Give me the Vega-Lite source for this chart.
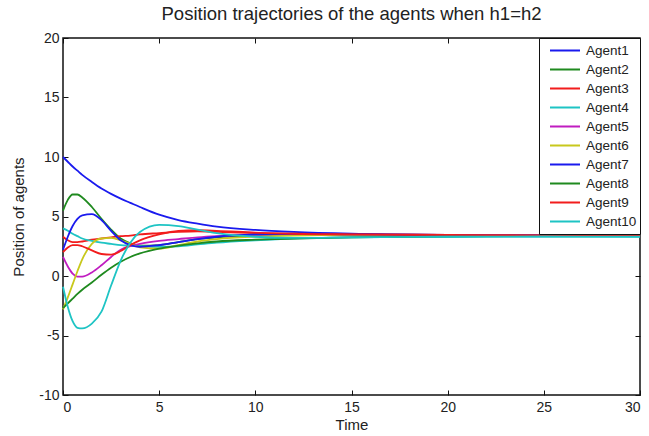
{
  "$schema": "https://vega.github.io/schema/vega-lite/v6.json",
  "width": 577,
  "height": 357,
  "autosize": "none",
  "padding": {"left": 63, "top": 38, "right": 9, "bottom": 41},
  "background": "white",
  "config": {
    "font": "Liberation Sans",
    "view": {"stroke": "#111", "strokeWidth": 1.5},
    "axis": {"grid": false, "domain": false, "labelFont": "Liberation Sans", "titleFont": "Liberation Sans", "labelColor": "#222", "titleColor": "#222", "tickColor": "#111", "tickWidth": 1, "labelFontSize": 14, "titleFontSize": 15, "titleFontWeight": "normal"},
    "legend": {"labelFont": "Liberation Sans"}
  },
  "title": {"text": "Position trajectories of the agents when h1=h2", "fontSize": 18.5, "fontWeight": "normal", "color": "#222", "offset": 8, "anchor": "middle"},
  "resolve": {"axis": {"x": "independent", "y": "independent"}},
  "data": {"values": [
    {"agent":"Agent1","t":0,"y":10},{"agent":"Agent1","t":0.25,"y":9.6},{"agent":"Agent1","t":0.5,"y":9.2},{"agent":"Agent1","t":0.75,"y":8.85},{"agent":"Agent1","t":1,"y":8.5},{"agent":"Agent1","t":1.5,"y":7.9},{"agent":"Agent1","t":2,"y":7.35},{"agent":"Agent1","t":2.5,"y":6.9},{"agent":"Agent1","t":3,"y":6.5},{"agent":"Agent1","t":3.5,"y":6.15},{"agent":"Agent1","t":4,"y":5.8},{"agent":"Agent1","t":5,"y":5.15},{"agent":"Agent1","t":6,"y":4.7},{"agent":"Agent1","t":7,"y":4.4},{"agent":"Agent1","t":8,"y":4.15},{"agent":"Agent1","t":10,"y":3.87},{"agent":"Agent1","t":12,"y":3.7},{"agent":"Agent1","t":15,"y":3.55},{"agent":"Agent1","t":20,"y":3.45},{"agent":"Agent1","t":25,"y":3.42},{"agent":"Agent1","t":30,"y":3.4},
    {"agent":"Agent2","t":0,"y":5.5},{"agent":"Agent2","t":0.25,"y":6.4},{"agent":"Agent2","t":0.5,"y":6.85},{"agent":"Agent2","t":0.75,"y":6.85},{"agent":"Agent2","t":1,"y":6.6},{"agent":"Agent2","t":1.5,"y":5.8},{"agent":"Agent2","t":2,"y":4.8},{"agent":"Agent2","t":2.5,"y":3.9},{"agent":"Agent2","t":3,"y":3.15},{"agent":"Agent2","t":3.5,"y":2.75},{"agent":"Agent2","t":4,"y":2.55},{"agent":"Agent2","t":5,"y":2.6},{"agent":"Agent2","t":6,"y":2.85},{"agent":"Agent2","t":7,"y":3.1},{"agent":"Agent2","t":8,"y":3.25},{"agent":"Agent2","t":10,"y":3.4},{"agent":"Agent2","t":12,"y":3.45},{"agent":"Agent2","t":15,"y":3.45},{"agent":"Agent2","t":20,"y":3.42},{"agent":"Agent2","t":25,"y":3.4},{"agent":"Agent2","t":30,"y":3.4},
    {"agent":"Agent3","t":0,"y":3.3},{"agent":"Agent3","t":0.25,"y":3.0},{"agent":"Agent3","t":0.5,"y":2.85},{"agent":"Agent3","t":0.75,"y":2.85},{"agent":"Agent3","t":1,"y":2.9},{"agent":"Agent3","t":1.5,"y":3.05},{"agent":"Agent3","t":2,"y":3.15},{"agent":"Agent3","t":2.5,"y":3.25},{"agent":"Agent3","t":3,"y":3.35},{"agent":"Agent3","t":3.5,"y":3.4},{"agent":"Agent3","t":4,"y":3.5},{"agent":"Agent3","t":5,"y":3.6},{"agent":"Agent3","t":6,"y":3.7},{"agent":"Agent3","t":7,"y":3.75},{"agent":"Agent3","t":8,"y":3.7},{"agent":"Agent3","t":10,"y":3.6},{"agent":"Agent3","t":12,"y":3.55},{"agent":"Agent3","t":15,"y":3.5},{"agent":"Agent3","t":20,"y":3.45},{"agent":"Agent3","t":25,"y":3.42},{"agent":"Agent3","t":30,"y":3.4},
    {"agent":"Agent4","t":0,"y":4.0},{"agent":"Agent4","t":0.25,"y":3.8},{"agent":"Agent4","t":0.5,"y":3.55},{"agent":"Agent4","t":0.75,"y":3.35},{"agent":"Agent4","t":1,"y":3.15},{"agent":"Agent4","t":1.5,"y":2.95},{"agent":"Agent4","t":2,"y":2.8},{"agent":"Agent4","t":2.5,"y":2.7},{"agent":"Agent4","t":3,"y":2.6},{"agent":"Agent4","t":3.5,"y":2.55},{"agent":"Agent4","t":4,"y":2.5},{"agent":"Agent4","t":5,"y":2.45},{"agent":"Agent4","t":6,"y":2.5},{"agent":"Agent4","t":7,"y":2.65},{"agent":"Agent4","t":8,"y":2.8},{"agent":"Agent4","t":10,"y":3.0},{"agent":"Agent4","t":12,"y":3.15},{"agent":"Agent4","t":15,"y":3.25},{"agent":"Agent4","t":20,"y":3.3},{"agent":"Agent4","t":25,"y":3.32},{"agent":"Agent4","t":30,"y":3.32},
    {"agent":"Agent5","t":0,"y":1.6},{"agent":"Agent5","t":0.25,"y":0.8},{"agent":"Agent5","t":0.5,"y":0.2},{"agent":"Agent5","t":0.75,"y":-0.05},{"agent":"Agent5","t":1,"y":-0.05},{"agent":"Agent5","t":1.5,"y":0.3},{"agent":"Agent5","t":2,"y":0.9},{"agent":"Agent5","t":2.5,"y":1.6},{"agent":"Agent5","t":3,"y":2.2},{"agent":"Agent5","t":3.5,"y":2.5},{"agent":"Agent5","t":4,"y":2.7},{"agent":"Agent5","t":5,"y":2.95},{"agent":"Agent5","t":6,"y":3.1},{"agent":"Agent5","t":7,"y":3.25},{"agent":"Agent5","t":8,"y":3.35},{"agent":"Agent5","t":10,"y":3.45},{"agent":"Agent5","t":12,"y":3.45},{"agent":"Agent5","t":15,"y":3.45},{"agent":"Agent5","t":20,"y":3.42},{"agent":"Agent5","t":25,"y":3.4},{"agent":"Agent5","t":30,"y":3.4},
    {"agent":"Agent6","t":0,"y":-2.8},{"agent":"Agent6","t":0.25,"y":-1.8},{"agent":"Agent6","t":0.5,"y":-0.7},{"agent":"Agent6","t":0.75,"y":0.4},{"agent":"Agent6","t":1,"y":1.4},{"agent":"Agent6","t":1.5,"y":2.7},{"agent":"Agent6","t":2,"y":3.15},{"agent":"Agent6","t":2.5,"y":3.2},{"agent":"Agent6","t":3,"y":3.0},{"agent":"Agent6","t":3.5,"y":2.7},{"agent":"Agent6","t":4,"y":2.4},{"agent":"Agent6","t":5,"y":2.3},{"agent":"Agent6","t":6,"y":2.6},{"agent":"Agent6","t":7,"y":2.9},{"agent":"Agent6","t":8,"y":3.1},{"agent":"Agent6","t":10,"y":3.3},{"agent":"Agent6","t":12,"y":3.4},{"agent":"Agent6","t":15,"y":3.45},{"agent":"Agent6","t":20,"y":3.42},{"agent":"Agent6","t":25,"y":3.4},{"agent":"Agent6","t":30,"y":3.4},
    {"agent":"Agent7","t":0,"y":2.2},{"agent":"Agent7","t":0.25,"y":3.3},{"agent":"Agent7","t":0.5,"y":4.2},{"agent":"Agent7","t":0.75,"y":4.8},{"agent":"Agent7","t":1,"y":5.1},{"agent":"Agent7","t":1.5,"y":5.2},{"agent":"Agent7","t":2,"y":4.7},{"agent":"Agent7","t":2.5,"y":3.8},{"agent":"Agent7","t":3,"y":3.0},{"agent":"Agent7","t":3.5,"y":2.6},{"agent":"Agent7","t":4,"y":2.45},{"agent":"Agent7","t":5,"y":2.6},{"agent":"Agent7","t":6,"y":2.85},{"agent":"Agent7","t":7,"y":3.1},{"agent":"Agent7","t":8,"y":3.3},{"agent":"Agent7","t":10,"y":3.5},{"agent":"Agent7","t":12,"y":3.55},{"agent":"Agent7","t":15,"y":3.5},{"agent":"Agent7","t":20,"y":3.45},{"agent":"Agent7","t":25,"y":3.42},{"agent":"Agent7","t":30,"y":3.4},
    {"agent":"Agent8","t":0,"y":-2.7},{"agent":"Agent8","t":0.25,"y":-2.3},{"agent":"Agent8","t":0.5,"y":-1.9},{"agent":"Agent8","t":0.75,"y":-1.5},{"agent":"Agent8","t":1,"y":-1.15},{"agent":"Agent8","t":1.5,"y":-0.55},{"agent":"Agent8","t":2,"y":0.1},{"agent":"Agent8","t":2.5,"y":0.7},{"agent":"Agent8","t":3,"y":1.2},{"agent":"Agent8","t":3.5,"y":1.6},{"agent":"Agent8","t":4,"y":1.9},{"agent":"Agent8","t":5,"y":2.3},{"agent":"Agent8","t":6,"y":2.55},{"agent":"Agent8","t":7,"y":2.75},{"agent":"Agent8","t":8,"y":2.9},{"agent":"Agent8","t":10,"y":3.05},{"agent":"Agent8","t":12,"y":3.15},{"agent":"Agent8","t":15,"y":3.25},{"agent":"Agent8","t":20,"y":3.33},{"agent":"Agent8","t":25,"y":3.36},{"agent":"Agent8","t":30,"y":3.38},
    {"agent":"Agent9","t":0,"y":2.0},{"agent":"Agent9","t":0.25,"y":2.4},{"agent":"Agent9","t":0.5,"y":2.6},{"agent":"Agent9","t":0.75,"y":2.6},{"agent":"Agent9","t":1,"y":2.5},{"agent":"Agent9","t":1.5,"y":2.15},{"agent":"Agent9","t":2,"y":1.85},{"agent":"Agent9","t":2.5,"y":1.8},{"agent":"Agent9","t":3,"y":2.1},{"agent":"Agent9","t":3.5,"y":2.6},{"agent":"Agent9","t":4,"y":3.0},{"agent":"Agent9","t":5,"y":3.5},{"agent":"Agent9","t":6,"y":3.8},{"agent":"Agent9","t":7,"y":3.85},{"agent":"Agent9","t":8,"y":3.8},{"agent":"Agent9","t":10,"y":3.65},{"agent":"Agent9","t":12,"y":3.55},{"agent":"Agent9","t":15,"y":3.5},{"agent":"Agent9","t":20,"y":3.45},{"agent":"Agent9","t":25,"y":3.42},{"agent":"Agent9","t":30,"y":3.4},
    {"agent":"Agent10","t":0,"y":-0.9},{"agent":"Agent10","t":0.25,"y":-2.6},{"agent":"Agent10","t":0.5,"y":-3.8},{"agent":"Agent10","t":0.75,"y":-4.35},{"agent":"Agent10","t":1,"y":-4.4},{"agent":"Agent10","t":1.5,"y":-4.0},{"agent":"Agent10","t":2,"y":-3.0},{"agent":"Agent10","t":2.5,"y":-0.8},{"agent":"Agent10","t":3,"y":1.3},{"agent":"Agent10","t":3.5,"y":2.8},{"agent":"Agent10","t":4,"y":3.7},{"agent":"Agent10","t":5,"y":4.3},{"agent":"Agent10","t":6,"y":4.2},{"agent":"Agent10","t":7,"y":3.9},{"agent":"Agent10","t":8,"y":3.6},{"agent":"Agent10","t":10,"y":3.3},{"agent":"Agent10","t":12,"y":3.2},{"agent":"Agent10","t":15,"y":3.25},{"agent":"Agent10","t":20,"y":3.3},{"agent":"Agent10","t":25,"y":3.32},{"agent":"Agent10","t":30,"y":3.3}
  ]},
  "layer": [
    {
      "mark": {"type": "line", "interpolate": "monotone", "strokeWidth": 1.8},
      "encoding": {
        "x": {"field": "t", "type": "quantitative", "scale": {"domain": [0, 30], "nice": false}, "axis": {"title": "Time", "values": [0,5,10,15,20,25,30], "tickSize": -5, "labelPadding": 10, "titlePadding": 3}},
        "y": {"field": "y", "type": "quantitative", "scale": {"domain": [-10, 20], "nice": false}, "axis": {"title": "Position of agents", "values": [-10,-5,0,5,10,15,20], "tickSize": -5, "labelPadding": 9, "titlePadding": 12, "labelExpr": "datum.value < 0 ? '-' + abs(datum.value) : '' + datum.value"}},
        "color": {"field": "agent", "type": "nominal", "scale": {"domain": ["Agent1","Agent2","Agent3","Agent4","Agent5","Agent6","Agent7","Agent8","Agent9","Agent10"], "range": ["#1a1aee","#1f8a1f","#f21c1c","#1ec4c4","#c01cc0","#c8c81c","#1a1aee","#1f8a1f","#f21c1c","#1ec4c4"]},
          "legend": {"title": null, "orient": "top-right", "offset": 0, "fillColor": "white", "strokeColor": "#111", "padding": 3, "symbolOffset": 7, "symbolType": "stroke", "symbolSize": 900, "symbolStrokeWidth": 2, "labelFontSize": 13.5, "labelOffset": 5, "labelColor": "#222", "rowPadding": 0, "clipHeight": 19}}
      }
    },
    {
      "mark": {"type": "line", "strokeOpacity": 0},
      "encoding": {
        "detail": {"field": "agent"},
        "x": {"field": "t", "type": "quantitative", "axis": {"orient": "top", "title": null, "labels": false, "values": [0,5,10,15,20,25,30], "tickSize": -5}},
        "y": {"field": "y", "type": "quantitative", "axis": {"orient": "right", "title": null, "labels": false, "values": [-10,-5,0,5,10,15,20], "tickSize": -5}}
      }
    }
  ]
}
